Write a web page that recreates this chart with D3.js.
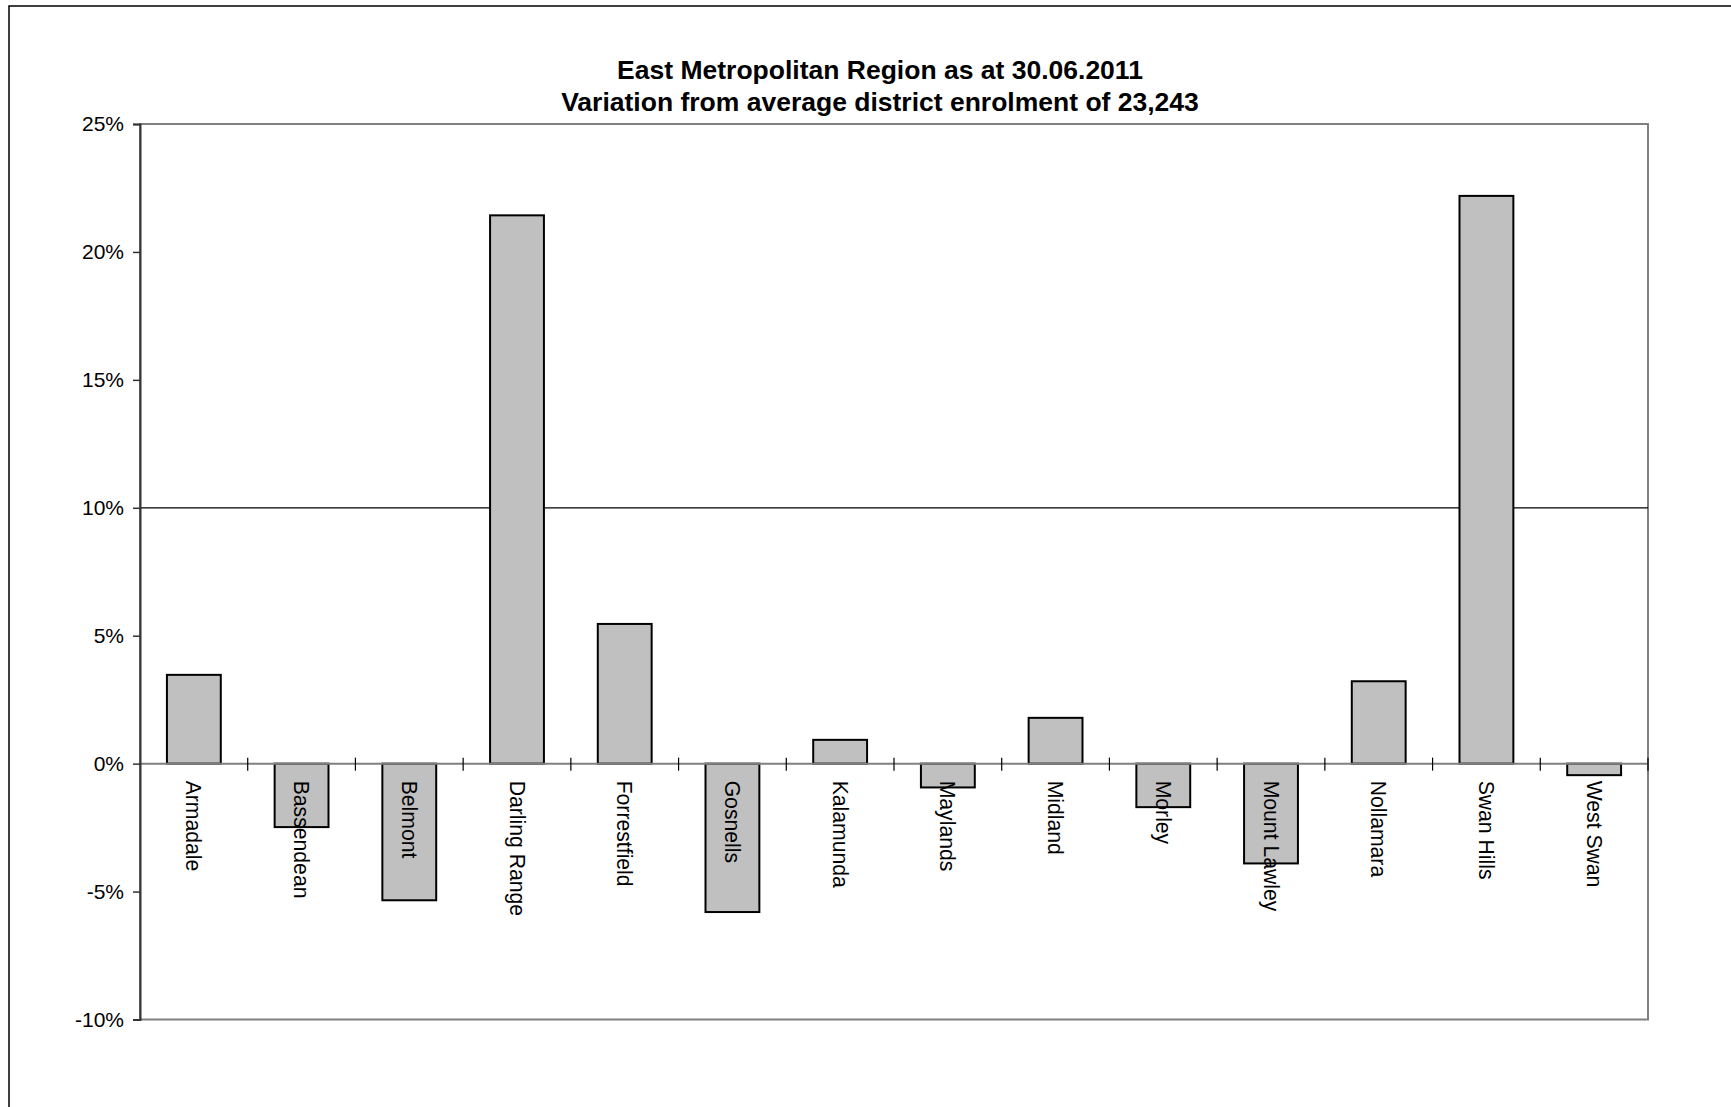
<!DOCTYPE html>
<html>
<head>
<meta charset="utf-8">
<script src="https://cdn.jsdelivr.net/npm/d3@7"></script>
<style>
  html, body { margin: 0; padding: 0; background: #fff; }
  svg { display: block; font-family: "Liberation Sans", Arial, sans-serif; }
</style>
</head>
<body>
<svg id="chart" width="1731" height="1107"></svg>
<script>
const categories = ["Armadale", "Bassendean", "Belmont", "Darling Range", "Forrestfield", "Gosnells", "Kalamunda", "Maylands", "Midland", "Morley", "Mount Lawley", "Nollamara", "Swan Hills", "West Swan"];
const variation = [3.47, -2.48, -5.34, 21.43, 5.46, -5.80, 0.93, -0.93, 1.79, -1.70, -3.90, 3.22, 22.19, -0.45];
const yTicks = [25, 20, 15, 10, 5, 0, -5, -10];
const referenceLine = 10;
const titleLines = ["East Metropolitan Region as at 30.06.2011", "Variation from average district enrolment of 23,243"];

const svg = d3.select("#chart");
const W = 1731, H = 1107;
const plot = { left: 140, right: 1648, top: 124, bottom: 1019.5 };

// outer frame (top and left visible, rest beyond the image)
svg.append("rect")
  .attr("x", 9).attr("y", 6).attr("width", W + 20).attr("height", H + 20)
  .attr("fill", "none").attr("stroke", "#000").attr("stroke-width", 1.5);

const x = d3.scaleBand().domain(categories).range([plot.left, plot.right]).paddingInner(0).paddingOuter(0);
const y = d3.scaleLinear().domain([-10, 25]).range([plot.bottom, plot.top]);

// plot border (grey)
svg.append("rect")
  .attr("x", plot.left).attr("y", plot.top)
  .attr("width", plot.right - plot.left).attr("height", plot.bottom - plot.top)
  .attr("fill", "none").attr("stroke", "#808080").attr("stroke-width", 2);

// reference line at 10%
svg.append("line")
  .attr("x1", plot.left).attr("x2", plot.right)
  .attr("y1", y(referenceLine)).attr("y2", y(referenceLine))
  .attr("stroke", "#000").attr("stroke-width", 1.3);

// bars
const bw = x.bandwidth() * 0.5;
svg.append("g").selectAll("rect")
  .data(categories)
  .join("rect")
  .attr("x", d => x(d) + (x.bandwidth() - bw) / 2)
  .attr("y", (d, i) => y(Math.max(0, variation[i])))
  .attr("width", bw)
  .attr("height", (d, i) => Math.abs(y(variation[i]) - y(0)))
  .attr("fill", "#c0c0c0")
  .attr("stroke", "#000")
  .attr("stroke-width", 2);

// zero axis line
svg.append("line")
  .attr("x1", plot.left).attr("x2", plot.right)
  .attr("y1", y(0)).attr("y2", y(0))
  .attr("stroke", "#808080").attr("stroke-width", 2);

// category boundary ticks (cross)
const boundaries = categories.slice(1).map(c => x(c)).concat([plot.right]);
svg.append("g").selectAll("line")
  .data(boundaries)
  .join("line")
  .attr("x1", d => d).attr("x2", d => d)
  .attr("y1", y(0) - 6).attr("y2", y(0) + 7)
  .attr("stroke", "#000").attr("stroke-width", 1.2);

// y axis
const yAxis = d3.axisLeft(y).tickValues(yTicks).tickSize(7).tickPadding(9)
  .tickFormat(d => d + "%");
const gy = svg.append("g").attr("transform", `translate(${plot.left},0)`).call(yAxis);
gy.select(".domain").attr("stroke", "#333").attr("stroke-width", 2);
gy.selectAll(".tick line").attr("stroke", "#333").attr("stroke-width", 1.5);
gy.selectAll(".tick text")
  .attr("fill", "#000")
  .style("font-size", "21px")
  .style("font-family", '"Liberation Sans", Arial, sans-serif');

// category labels (rotated)
svg.append("g").selectAll("text")
  .data(categories)
  .join("text")
  .attr("transform", d => `translate(${x(d) + x.bandwidth() / 2},${y(0) + 17}) rotate(90)`)
  .attr("dy", "0.35em")
  .attr("text-anchor", "start")
  .style("font-size", "21.2px")
  .attr("fill", "#000")
  .text(d => d);

// title
svg.append("g").selectAll("text")
  .data(titleLines)
  .join("text")
  .attr("x", 880)
  .attr("y", (d, i) => 79 + i * 32)
  .attr("text-anchor", "middle")
  .style("font-size", "26.5px")
  .style("font-weight", "bold")
  .attr("fill", "#000")
  .text(d => d);
</script>
</body>
</html>
